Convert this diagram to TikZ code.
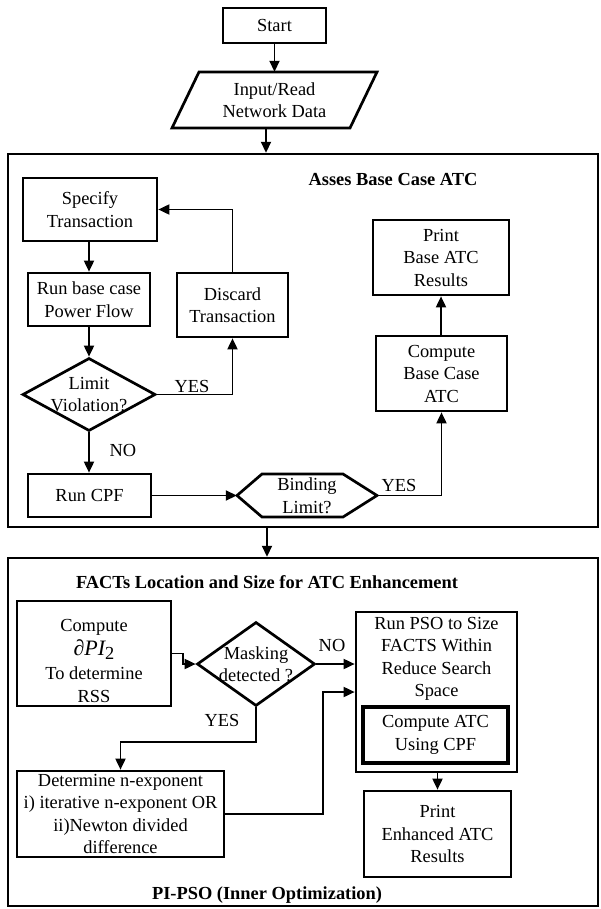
\documentclass[tikz,border=0pt]{standalone}
\usepackage{fontspec}
\setmainfont{Liberation Serif}
\usetikzlibrary{arrows.meta,shapes.geometric}
\tikzset{
  box/.style={draw,line width=2.7pt,rectangle,inner sep=0pt,align=center},
  frame/.style={draw,line width=2.4pt,rectangle,inner sep=0pt},
  dia/.style={draw,line width=2.7pt,diamond,inner sep=0pt},
  txt/.style={inner sep=0pt,align=center},
  ttl/.style={inner sep=0pt,font=\fontsize{18.4}{22.5}\selectfont\bfseries},
  conn/.style={line width=1.8pt,-{Triangle[length=11pt,width=10pt]}},
}
\begin{document}
\begin{tikzpicture}[x=1pt,y=-1pt,font=\fontsize{18.4}{22.5}\selectfont]
\useasboundingbox (0,0) rectangle (600,909);
% top
\node[box,minimum width=103,minimum height=35] (start) at (274.5,25.5) {Start};
\draw[line width=2.7pt] (199,72) -- (377,72) -- (350,128) -- (172,128) -- cycle;
\node[txt,minimum width=150,minimum height=56] (inp) at (274.5,100) {Input/Read\\Network Data};
\draw[conn] (start.south) -- (inp.north);
% frames
\node[frame,minimum width=590,minimum height=373] (f1) at (303,340.5) {};
\node[frame,minimum width=590,minimum height=348] (f2) at (303,732) {};
\draw[conn] ([xshift=-8.5pt]inp.south) -- ([xshift=-8.5pt]inp.south |- f1.north);
\draw[conn] ([xshift=-36pt]f1.south) -- ([xshift=-36pt]f2.north);
% frame 1
\node[ttl] (t1) at (393,179) {Asses Base Case ATC};
\node[box,minimum width=134,minimum height=63] (spec) at (90,209.5) {Specify\\Transaction};
\node[box,minimum width=122,minimum height=53] (runb) at (89,299.5) {Run base case\\Power Flow};
\node[box,minimum width=111,minimum height=64] (disc) at (232.5,305) {Discard\\Transaction};
\node[dia,minimum width=133,minimum height=73] (limit) at (89,394.5) {};
\node[txt] (limitT) at (limit) {Limit\\Violation?};
\node[box,minimum width=123,minimum height=43] (runcpf) at (89.5,495.5) {Run CPF};
\draw[line width=2.7pt] (237,495.5) -- (262,474) -- (343,474) -- (377,495.5) -- (343,517) -- (262,517) -- cycle;
\node[txt,minimum width=140,minimum height=43] (bind) at (307,495.5) {Binding\\Limit?};
\node[box,minimum width=131,minimum height=75] (cbase) at (441.5,373.5) {Compute\\Base Case\\ATC};
\node[box,minimum width=136,minimum height=75] (pbase) at (441,257.5) {Print\\Base ATC\\Results};
\draw[conn] (spec.south -| runb.north) -- (runb.north);
\draw[conn] (runb.south) -- (limit.north);
\draw[conn] (limit.east) -| (disc.south);
\node[txt] (yes1) at (192,386) {YES};
\draw[conn] (disc.north) |- (spec.east);
\draw[conn] (limit.south) -- (runcpf.north -| limit.south);
\node[txt] (no1) at (123,450) {NO};
\draw[conn] (runcpf.east) -- (bind.west);
\draw[conn] (bind.east) -| (cbase.south);
\node[txt] (yes2) at (399,485) {YES};
\draw[conn] (cbase.north -| pbase.south) -- (pbase.south);
% frame 2
\node[ttl] (t2) at (267,582) {FACTs Location and Size for ATC Enhancement};
\node[box,minimum width=154,minimum height=105] (comp) at (94,653.5) {};
\node[txt] (compT) at (94,661) {Compute\\[1pt]{\fontsize{22}{22}\selectfont\itshape\char"2202{}PI}\raisebox{-4pt}{2}\\[2pt]To determine\\RSS};
\node[dia,minimum width=118,minimum height=84] (mask) at (256,664) {};
\node[txt] (maskT) at (mask) {Masking\\detected ?};
\node[box,minimum width=161,minimum height=160] (pso) at (436.5,692) {};
\node[txt] (psoT) at (436.5,659) {Run PSO to Size\\FACTS Within\\Reduce Search\\Space};
\node[box,line width=3.5pt,minimum width=145,minimum height=56] (capi) at (435.5,735) {Compute ATC\\Using CPF};
\node[box,minimum width=147,minimum height=86] (penh) at (437.5,834) {Print\\Enhanced ATC\\Results};
\node[box,minimum width=207,minimum height=86] (det) at (120.5,814) {Determine n-exponent\\i) iterative n-exponent OR\\ii)Newton divided\\difference};
\node[ttl] (t3) at (267,895) {PI-PSO (Inner Optimization)};
\draw[conn] (comp.east) -- ++(11,0) |- (mask.west);
\draw[conn] (mask.east) -- (mask.east -| pso.west);
\node[txt] (no2) at (332,645) {NO};
\draw[conn] (mask.south) -- ++(0,35) -| (det.north);
\node[txt] (yes3) at (222,720) {YES};
\draw[conn] (det.east) -- ++(98,0) |- (pso.west);
\draw[conn] (pso.south -| penh.north) -- (penh.north);
\end{tikzpicture}
\end{document}
